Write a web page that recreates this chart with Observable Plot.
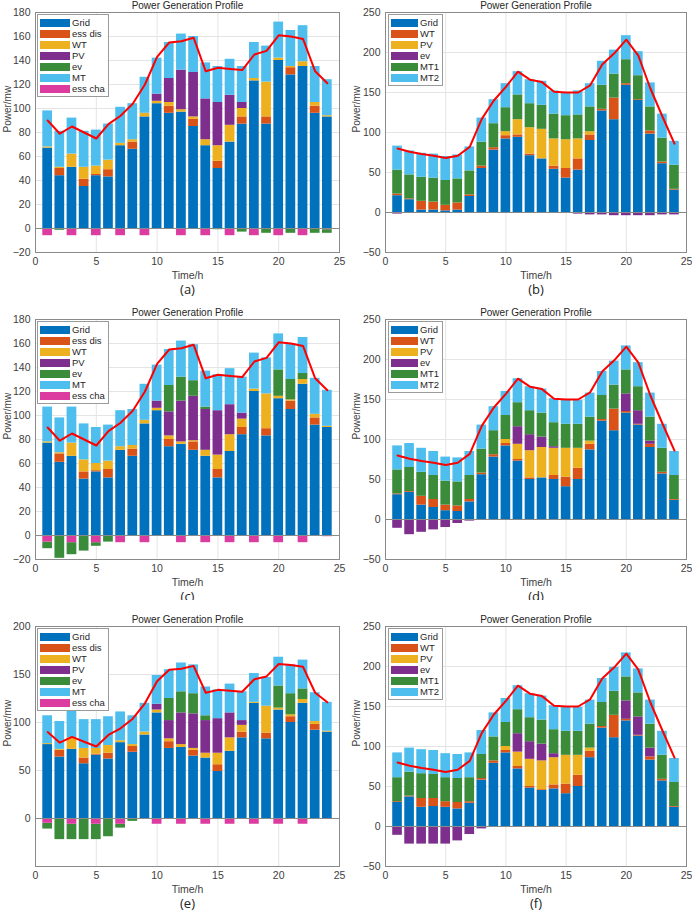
<!DOCTYPE html>
<html>
<head>
<meta charset="utf-8">
<script src="https://cdn.jsdelivr.net/npm/d3@7"></script>
<script src="https://cdn.jsdelivr.net/npm/@observablehq/plot@0.6"></script>
<style>
  body { margin: 0; background: #fff; }
  #page { position: relative; width: 692px; height: 911px; background: #fff; font-family: "Liberation Sans", Arial, sans-serif; }
  .panel { position: absolute; width: 346px; }
  .legend { position: absolute; background: #fff; border: 1px solid #9a9a9a; padding: 2px 3px 2px 2px; box-sizing: border-box; }
  .legend .row { display: flex; align-items: center; height: 11px; font-size: 9.5px; color: #262626; white-space: nowrap; }
  .legend .sw { height: 8px; margin-right: 2px; flex: none; }
</style>
</head>
<body>
<div id="page"></div>
<script>
// ---------- categories ----------
const hours = [1,2,3,4,5,6,7,8,9,10,11,12,13,14,15,16,17,18,19,20,21,22,23,24];
const seriesESS = ["Grid", "ess dis", "WT", "PV", "ev", "MT", "ess cha"];
const seriesMT  = ["Grid", "WT", "PV", "ev", "MT1", "MT2"];
const colorsESS = ["#0072BD", "#D95319", "#EDB120", "#7E2F8E", "#3A8B3A", "#4DBEEE", "#DC3CA0"];
const colorsMT  = ["#0072BD", "#D95319", "#EDB120", "#7E2F8E", "#3A8B3A", "#4DBEEE"];
const stackOrderESS = ["Grid", "ess dis", "WT", "PV", "ess cha", "ev", "MT"];
const stackOrderMT  = ["Grid", "WT", "PV", "ev", "MT1", "MT2"];

// ---------- load curves (red lines) ----------
const loadESS = [90,79,85,80,75,87,94,104,120,143,155,156,159,131,134,133,132,145,148,161,160,158,131,121];
const loadMT  = [80,76,73,71,68,71,82,117,140,157,176,166,163,151,150,150,159,185,199,216,196,155,120,86];

// ---------- panel (a) ----------
const a_grid   = [67,44,51,35,44,43,69,66,93,104,96,97,85,69,50,72,87,123,87,140,128,135,96,93];
const a_essdis = [0,6,0,6,1,6,0,6,0,0,6,0,6,0,6,0,6,0,6,0,6,0,6,0];
const a_wt     = [1,1,11,10,7,8,2,2,3,2,3,2,2,5,13,14,7,2,29,2,1,4,3,1];
const a_pv     = [0,0,0,0,0,0,0,0,0,6,20,33,37,34,36,25,5,0,0,0,0,0,0,0];
const a_ev     = [0,-1.5,0,-0.5,0,0,0,0,0,0,0,0,-0.5,0,-1,0,-3,0,-4,0,-4,0,-4,-3];
const a_mt     = [30,30,30,30,30,30,30,30,30,30,30,30,30,30,30,30,30,30,30,30,30,30,30,30];
const a_esscha = [-6,0,-6,0,-6,0,-6,0,-6,0,0,-6,0,-6,0,-6,0,-6,0,-6,0,-6,0,-1];

// ---------- panel (b) ----------
const b_grid = [21,16,3,3,2,3,20,55,78,92,94,71,67,54,43,53,90,127,116,159,140,98,61,28];
const b_wt   = [2,1,11,10,7,9,2,3,3,4,3,2,0,4,12,14,7,2,27,2,1,4,2,1];
const b_pv   = [0,0,0,0,0,0,0,0,0,5,19,33,37,34,36,25,4,0,0,0,0,0,0,0];
const b_ev   = [-2,-1,-1,0,0,0,0,0,0,0,0,0,0,0,-1,-2,-3,-3,-4,-4,-4,-4,-3,-3];
const b_mt1  = [30,30,30,30,31,30,30,30,30,30,31,30,30,31,30,30,31,30,30,30,30,30,30,30];
const b_mt2  = [30,30,30,30,30,30,30,30,30,30,29,30,30,29,29,30,29,30,30,30,30,30,30,30];

// ---------- panel (c) ----------
const c_grid   = [77,61,66,47,53,48,71,66,93,104,74,76,71,66,48,70,84,120,83,114,105,126,92,90];
const c_essdis = [0,7,0,6,1,7,0,6,0,0,6,0,7,0,7,0,6,0,6,0,7,0,6,0];
const c_wt     = [1,1,11,10,6,7,3,3,3,2,3,2,1,5,12,14,7,2,29,2,1,4,3,1];
const c_pv     = [0,0,0,0,0,0,0,0,0,6,20,34,37,34,37,25,5,0,0,0,0,0,0,0];
const c_ev     = [-5.5,-19,-10,-13,-3,-5.5,0,-0.5,0,0,22,20,13,2,0,0,0,0,0,22,17,5,0,0];
const c_mt     = [29,29,30,30,30,30,30,30,30,30,30,30,30,30,30,30,30,30,30,30,30,30,30,30];
const c_esscha = [-5.5,0,-6,0,-6,0,-6,0,-6,0,0,-6,0,-6,0,-6,0,-6,0,-6,0,-6,0,-1];

// ---------- panel (d) ----------
const d_grid = [31,34,18,15,11,10,22,56,78,92,73,50,52,50,41,50,87,123,111,133,118,90,57,24];
const d_wt   = [1,1,11,10,7,7,3,2,3,3,2,2,0,5,12,14,7,2,27,2,1,4,2,1];
const d_pv   = [0,0,0,0,0,0,0,0,0,5,19,34,38,34,36,25,4,0,0,0,0,0,0,0];
const d_ev   = [-11,-19,-16,-13,-10,-5,-2,-1,0,0,22,20,13,2,0,0,0,0,0,22,17,4,0,0];
const d_mt1  = [30,30,30,30,30,30,30,30,30,30,30,30,30,30,30,30,30,30,30,30,30,30,30,30];
const d_mt2  = [30,30,30,30,30,30,30,30,30,30,30,30,30,30,30,30,30,30,30,30,30,30,30,30];

// ---------- panel (e) ----------
const e_grid   = [77,64,72,57,66,62,79,69,87,110,73,74,65,63,49,70,84,120,83,113,100,120,92,90];
const e_essdis = [0,7,0,6,1,6,0,6,0,0,7,0,6,0,7,0,6,0,6,0,6,0,6,0];
const e_wt     = [1,1,12,10,6,8,2,2,3,3,3,3,2,5,12,14,7,1,28,2,2,4,3,1];
const e_pv     = [0,0,0,0,0,0,0,0,0,6,19,33,36,34,36,26,5,0,0,0,0,0,0,0];
const e_ev     = [-6,-22,-16,-22,-16,-19,-4,-3,0,0,23,22,21,5,0,0,0,0,0,23,22,11,0,0];
const e_mt     = [29,29,30,30,30,30,30,30,30,30,30,30,30,30,30,30,30,30,30,30,30,30,30,30];
const e_esscha = [-5,0,-6,0,-6,0,-6,0,0,-6,0,-6,0,-6,0,-6,0,-6,0,-6,0,-6,0,-1];

// ---------- panel (f) ----------
const f_grid = [30,37,24,25,24,22,29,58,79,92,72,48,45,47,41,50,86,123,111,132,113,83,57,24];
const f_wt   = [1,1,11,10,7,8,2,2,3,3,3,2,1,5,12,14,8,2,28,2,1,4,2,1];
const f_pv   = [0,0,0,0,0,0,0,0,0,5,18,34,36,34,36,25,4,0,0,0,0,0,0,0];
const f_ev   = [-11,-22,-22,-22,-22,-18,-10,-3,0,0,23,22,21,5,0,0,0,0,0,23,23,11,0,0];
const f_mt1  = [30,30,31,30,30,30,30,30,30,30,30,30,30,30,30,30,30,30,30,30,30,30,30,30];
const f_mt2  = [31,30,30,30,30,30,31,30,30,30,30,30,30,30,30,30,30,30,30,30,30,30,30,30];

// ---------- axis ticks ----------
const xTicks = [0,5,10,15,20,25];
const yTicksA = [-20,0,20,40,60,80,100,120,140,160,180];
const yTicksB = [-50,0,50,100,150,200,250];
const yTicksE = [0,50,100,150,200];

const panels = [
  {letter: "a", col: 0, row: 0, series: seriesESS, colors: colorsESS, order: stackOrderESS,
   values: [a_grid, a_essdis, a_wt, a_pv, a_ev, a_mt, a_esscha], load: loadESS, yDomain: [-20, 180], yTicks: yTicksA},
  {letter: "b", col: 1, row: 0, series: seriesMT, colors: colorsMT, order: stackOrderMT,
   values: [b_grid, b_wt, b_pv, b_ev, b_mt1, b_mt2], load: loadMT, yDomain: [-50, 250], yTicks: yTicksB},
  {letter: "c", col: 0, row: 1, series: seriesESS, colors: colorsESS, order: stackOrderESS,
   values: [c_grid, c_essdis, c_wt, c_pv, c_ev, c_mt, c_esscha], load: loadESS, yDomain: [-20, 180], yTicks: yTicksA},
  {letter: "d", col: 1, row: 1, series: seriesMT, colors: colorsMT, order: stackOrderMT,
   values: [d_grid, d_wt, d_pv, d_ev, d_mt1, d_mt2], load: loadMT, yDomain: [-50, 250], yTicks: yTicksB},
  {letter: "e", col: 0, row: 2, series: seriesESS, colors: colorsESS, order: stackOrderESS,
   values: [e_grid, e_essdis, e_wt, e_pv, e_ev, e_mt, e_esscha], load: loadESS, yDomain: [-50, 200], yTicks: yTicksE},
  {letter: "f", col: 1, row: 2, series: seriesMT, colors: colorsMT, order: stackOrderMT,
   values: [f_grid, f_wt, f_pv, f_ev, f_mt1, f_mt2], load: loadMT, yDomain: [-50, 250], yTicks: yTicksB},
];

// row layout: [svg top on page, svg height, frame top on page]
const rowLayout = [
  {top: 0,   height: 300, frameTop: 12},
  {top: 300, height: 300, frameTop: 319},
  {top: 600, height: 311, frameTop: 626}
];
const frameH = 240;

const page = document.getElementById("page");
const textColor = "#404040";

for (const p of panels) {
  const L = rowLayout[p.row];
  const marginLeft = p.col === 0 ? 35 : 39;
  const marginRight = p.col === 0 ? 7 : 6;
  const marginTop = L.frameTop - L.top;
  const marginBottom = L.height - marginTop - frameH;

  const rows = [];
  p.series.forEach((s, si) => {
    hours.forEach((h, hi) => {
      rows.push({hour: h, x1: h - 0.4, x2: h + 0.4, series: s, value: p.values[si][hi]});
    });
  });
  const loadRows = hours.map((h, i) => ({hour: h, load: p.load[i]}));

  const chart = Plot.plot({
    width: 346,
    height: L.height,
    marginTop, marginBottom, marginLeft, marginRight,
    style: {fontFamily: '"Liberation Sans", Arial, sans-serif', fontSize: "10.5px", color: textColor, background: "white", overflow: "visible"},
    x: {domain: [0, 25]},
    y: {domain: p.yDomain},
    color: {domain: p.series, range: p.colors},
    marks: [
      Plot.gridX(xTicks.slice(1, -1), {stroke: "#e4e4e4", strokeOpacity: 1}),
      Plot.gridY(p.yTicks, {stroke: "#e4e4e4", strokeOpacity: 1}),
      Plot.rect(rows, Plot.stackY({x1: "x1", x2: "x2", y: "value", fill: "series", order: p.order})),
      Plot.ruleY([0], {stroke: "#8a8a8a", strokeWidth: 1}),
      Plot.line(loadRows, {x: "hour", y: "load", stroke: "#FF0000", strokeWidth: 2}),
      Plot.frame({stroke: "#8a8a8a"}),
      Plot.axisX({ticks: xTicks, tickSize: 0, tickPadding: 5, label: null, fill: textColor}),
      Plot.axisY({ticks: p.yTicks, tickSize: 0, tickPadding: 5, label: null, fill: textColor}),
      Plot.text(["Power Generation Profile"], {text: d => d, frameAnchor: "top", lineAnchor: "middle", dy: -7, fontSize: 10, fill: "#262626"}),
      Plot.text(["Time/h"], {text: d => d, frameAnchor: "bottom", lineAnchor: "middle", dy: 23, fontSize: 10.5, fill: textColor}),
      Plot.text(["Power/mw"], {text: d => d, frameAnchor: "left", dx: p.col === 0 ? -28 : -29, rotate: -90, fontSize: 10, fill: textColor}),
      Plot.text([`(${p.letter})`], {text: d => d, frameAnchor: "bottom", lineAnchor: "middle", dy: 37, fontSize: 13, fill: "#222", fontFamily: '"Open Sans", sans-serif'})
    ]
  });

  const div = document.createElement("div");
  div.className = "panel";
  div.style.left = (p.col * 346) + "px";
  div.style.top = L.top + "px";
  div.style.height = L.height + "px";
  div.appendChild(chart);

  // legend (HTML, overlaid on the top-left corner of the frame)
  const leg = document.createElement("div");
  leg.className = "legend";
  leg.style.left = (marginLeft + (p.col === 0 ? 2 : 3)) + "px";
  leg.style.top = (marginTop + 2) + "px";
  const swW = p.col === 0 ? 30 : 27;
  p.series.forEach((s, i) => {
    const r = document.createElement("div");
    r.className = "row";
    const sw = document.createElement("span");
    sw.className = "sw";
    sw.style.width = swW + "px";
    sw.style.background = p.colors[i];
    const t = document.createElement("span");
    t.textContent = s;
    r.appendChild(sw);
    r.appendChild(t);
    leg.appendChild(r);
  });
  div.appendChild(leg);
  page.appendChild(div);
}
</script>
</body>
</html>
